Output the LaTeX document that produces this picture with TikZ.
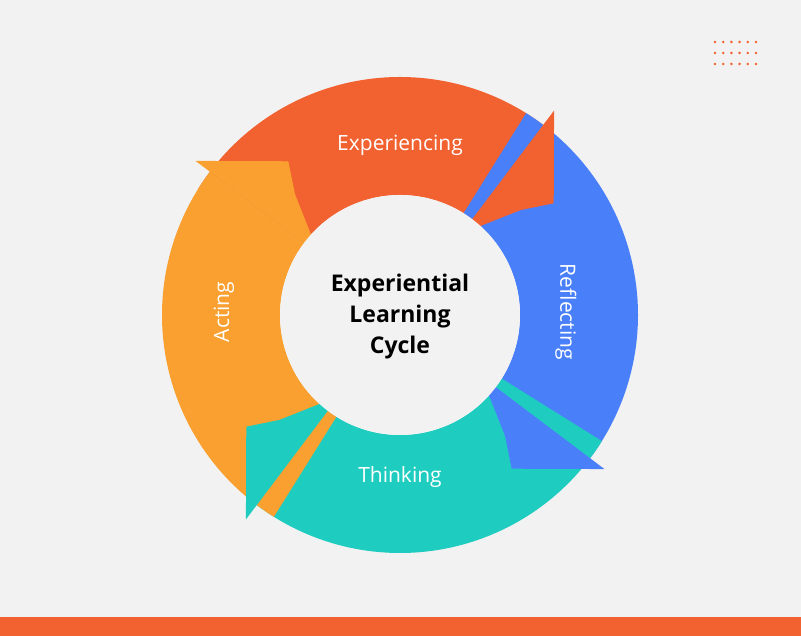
\documentclass[tikz,border=0pt]{standalone}
\usepackage{fontspec}
\setmainfont{Open Sans}
\definecolor{bg}{HTML}{F2F2F2}
\definecolor{cexp}{HTML}{F26130}
\definecolor{cref}{HTML}{4A7FFA}
\definecolor{cthi}{HTML}{1FCDC0}
\definecolor{cact}{HTML}{F9A030}
\tikzset{
  lbl/.style={text=white,font=\fontsize{21}{24}\selectfont},
  mid/.style={font=\bfseries\fontsize{23}{31}\selectfont,align=center}
}
\begin{document}
\begin{tikzpicture}[x=1pt,y=1pt]
\fill[bg] (0,0) rectangle (801,636);
\useasboundingbox (0,0) rectangle (801,636);
\fill[cexp] (0,0) rectangle (801,19);
% dots
\foreach \i in {0,...,5}
  \foreach \j in {0,...,2}
    \fill[cexp] (715+\i*8.2,594-\j*11) circle (1.4);
\begin{scope}[shift={(400,321)}]
% bodies
\foreach \b/\c in {53/cexp,-37/cref,-127/cthi,143/cact}
  \fill[\c] (\b:120) arc (\b:\b+95:120) -- (\b+95:238) arc (\b+95:\b:238) -- cycle;
% heads
\foreach \b/\c in {53/cexp,-37/cref,-127/cthi,143/cact}
  \fill[\c] (\b:102) -- (\b:256) -- (\b-17:190) -- (\b-12:160) -- cycle;
\fill[bg] (0,0) circle (120);
\node[lbl] (exp) at (0,170) {Experiencing};
\node[lbl,rotate=-90] (ref) at (166,3) {Reflecting};
\node[lbl] (thi) at (0,-162) {Thinking};
\node[lbl,rotate=90] (act) at (-176,3) {Acting};
\node[mid] (cyc) at (0,-2) {Experiential\\Learning\\Cycle};
\end{scope}
\end{tikzpicture}
\end{document}
